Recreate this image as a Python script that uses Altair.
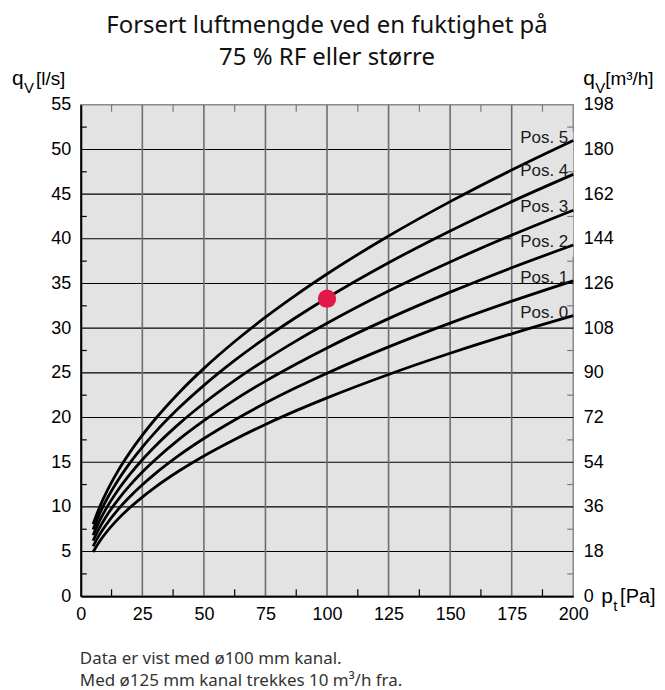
import altair as alt
import pandas as pd

# ---- data ----
pressure = [5, 7.5, 10, 15, 20, 25, 30, 40, 50, 62.5, 75, 87.5, 100, 125, 150, 175, 200]
pos0 = [4.96, 6.08, 7.02, 8.60, 9.93, 11.10, 12.16, 14.04, 15.70, 17.55, 19.23, 20.77, 22.20, 24.82, 27.19, 29.37, 31.40]
pos1 = [5.58, 6.84, 7.89, 9.67, 11.16, 12.48, 13.67, 15.79, 17.65, 19.73, 21.62, 23.35, 24.96, 27.91, 30.57, 33.02, 35.30]
pos2 = [6.21, 7.61, 8.79, 10.76, 12.43, 13.90, 15.22, 17.58, 19.65, 21.97, 24.07, 25.99, 27.79, 31.07, 34.03, 36.76, 39.30]
pos3 = [6.83, 8.37, 9.66, 11.83, 13.66, 15.28, 16.73, 19.32, 21.60, 24.15, 26.46, 28.58, 30.55, 34.16, 37.41, 40.41, 43.20]
pos4 = [7.46, 9.14, 10.56, 12.93, 14.93, 16.69, 18.28, 21.11, 23.60, 26.39, 28.91, 31.22, 33.38, 37.32, 40.88, 44.16, 47.21]
pos5 = [8.06, 9.88, 11.40, 13.97, 16.13, 18.03, 19.75, 22.81, 25.50, 28.51, 31.23, 33.73, 36.06, 40.31, 44.16, 47.70, 51.00]
series_names = ["Pos. 0", "Pos. 1", "Pos. 2", "Pos. 3", "Pos. 4", "Pos. 5"]
series_values = [pos0, pos1, pos2, pos3, pos4, pos5]

marker_p = [100]
marker_q = [33.3]

q_ticks = [0, 5, 10, 15, 20, 25, 30, 35, 40, 45, 50, 55]
p_ticks = [0, 25, 50, 75, 100, 125, 150, 175, 200]
q_grid = [5, 10, 15, 20, 25, 30, 35, 40, 45, 50]
p_grid = [25, 50, 75, 100, 125, 150, 175]
q_minor = [2.5, 7.5, 12.5, 17.5, 22.5, 27.5, 32.5, 37.5, 42.5, 47.5, 52.5]
p_minor = [12.5, 37.5, 62.5, 87.5, 112.5, 137.5, 162.5, 187.5]

title_lines = ["Forsert luftmengde ved en fuktighet på", "75 % RF eller større"]
notes = ["Data er vist med ø100 mm kanal.", "Med ø125 mm kanal trekkes 10 m³/h fra."]

# ---- tables ----
rows = []
for name, vals in zip(series_names, series_values):
    for p, q in zip(pressure, vals):
        rows.append({"series": name, "p": p, "q": q})
curves_df = pd.DataFrame(rows)
labels_df = pd.DataFrame({"series": series_names,
                          "p": [pressure[-1]] * len(series_names),
                          "q": [v[-1] for v in series_values]})
marker_df = pd.DataFrame({"p": marker_p, "q": marker_q})
qgrid_df = pd.DataFrame({"q": q_grid})
pgrid_df = pd.DataFrame({"p": p_grid})
qminor_df = pd.DataFrame({"q": q_minor})
pminor_df = pd.DataFrame({"p": p_minor})
one = pd.DataFrame({"a": [0]})

W, H = 494, 493
BG = "#e3e3e3"
FONT = "Liberation Sans"

xs = alt.Scale(domain=[0, 200], nice=False, zero=False)
ys = alt.Scale(domain=[0, 55], nice=False, zero=False)

x_axis = alt.Axis(values=p_ticks, ticks=False, grid=False, domainColor="black", domainWidth=2,
                  labelPadding=9, labelFont=FONT, labelFontSize=18, labelColor="black",
                  labelFlush=False, labelOverlap=False, title=None, zindex=1)
left_axis = alt.Axis(values=q_ticks, orient="left", ticks=False, grid=False, domainColor="black",
                     domainWidth=2, labelPadding=10, labelFont=FONT, labelFontSize=18,
                     labelColor="black", labelOverlap=False, title=None, zindex=1)
right_axis = alt.Axis(values=q_ticks, orient="right", ticks=False, grid=False, domain=False,
                      labelPadding=10, labelFont=FONT, labelFontSize=18, labelColor="black",
                      labelOverlap=False, labelExpr="'' + round(datum.value * 3.6)", title=None)

hgrid = alt.Chart(qgrid_df).mark_rule(color="black", strokeWidth=1.1).encode(
    y=alt.Y("q:Q", scale=ys, axis=None), x=alt.value(0), x2=alt.value(W))

mask = alt.Chart(one).mark_rect(color=BG).encode(
    x=alt.datum(175, scale=xs, axis=x_axis), x2=alt.datum(200),
    y=alt.datum(38, scale=ys, axis=None), y2=alt.datum(52))

vgrid = alt.Chart(pgrid_df).mark_rule(color="#6e6e6e", strokeWidth=1.6).encode(
    x=alt.X("p:Q", scale=xs, axis=x_axis), y=alt.value(0), y2=alt.value(H))

curves = alt.Chart(curves_df).mark_line(color="black", strokeWidth=2.8, interpolate="monotone").encode(
    x=alt.X("p:Q", scale=xs, axis=x_axis),
    y=alt.Y("q:Q", scale=ys, axis=None),
    detail="series:N")

marker = alt.Chart(marker_df).mark_circle(size=340, color="#e2184b", opacity=1).encode(
    x=alt.X("p:Q", scale=xs, axis=x_axis), y=alt.Y("q:Q", scale=ys, axis=None))

labels = alt.Chart(labels_df).mark_text(align="right", baseline="alphabetic", dx=-5, dy=2,
                                        font=FONT, fontSize=17, color="#1a1a1a").encode(
    x=alt.X("p:Q", scale=xs, axis=x_axis), y=alt.Y("q:Q", scale=ys, axis=None), text="series:N")

left_ticks = alt.Chart(qminor_df).mark_rule(color="black", strokeWidth=1.2).encode(
    y=alt.Y("q:Q", scale=ys, axis=left_axis), x=alt.value(0), x2=alt.value(6))
right_ticks = alt.Chart(qminor_df).mark_rule(color="#7a7a7a", strokeWidth=1.2).encode(
    y=alt.Y("q:Q", scale=ys, axis=right_axis), x=alt.value(W - 6), x2=alt.value(W))
bottom_ticks = alt.Chart(pminor_df).mark_rule(color="black", strokeWidth=1.2).encode(
    x=alt.X("p:Q", scale=xs, axis=x_axis), y=alt.value(H - 7), y2=alt.value(H))
top_ticks = alt.Chart(pminor_df).mark_rule(color="#7a7a7a", strokeWidth=1.2).encode(
    x=alt.X("p:Q", scale=xs, axis=x_axis), y=alt.value(0), y2=alt.value(7))


def txt(s, x, y, size, align="left", font=FONT, color="black"):
    return alt.Chart(one).mark_text(text=s, align=align, baseline="alphabetic", font=font,
                                    fontSize=size, color=color).encode(
        x=alt.value(x), y=alt.value(y))


annotations = [
    txt(title_lines[0], 247, -72, 24, align="center", font="Noto Sans", color="#111"),
    txt(title_lines[1], 247, -40, 24, align="center", font="Noto Sans", color="#111"),
    txt("q", -69, -20, 21), txt("V", -57, -12, 15), txt("[l/s]", -45, -20, 19),
    txt("q", 504, -20, 21), txt("V", 516, -12, 15), txt("[m³/h]", 526, -20, 19),
    txt("p", 522, 500, 21), txt("t", 534, 508, 15), txt("[Pa]", 541, 500, 20),
    txt(notes[0], -1, 561, 17, font="Noto Sans", color="#333"),
    txt(notes[1], -1, 583, 17, font="Noto Sans", color="#333"),
]

chart = alt.layer(
    hgrid, mask, vgrid, curves, marker, labels,
    left_ticks, right_ticks, bottom_ticks, top_ticks, *annotations
).resolve_scale(y="independent").properties(
    width=W, height=H,
    autosize=alt.AutoSizeParams(type="none"),
    padding={"left": 73, "top": 96, "right": 84, "bottom": 100},
).configure_view(fill=BG, stroke="#8a8a8a", strokeWidth=1.5)

chart.save("out.html", embed_options={"renderer": "svg", "actions": False})
